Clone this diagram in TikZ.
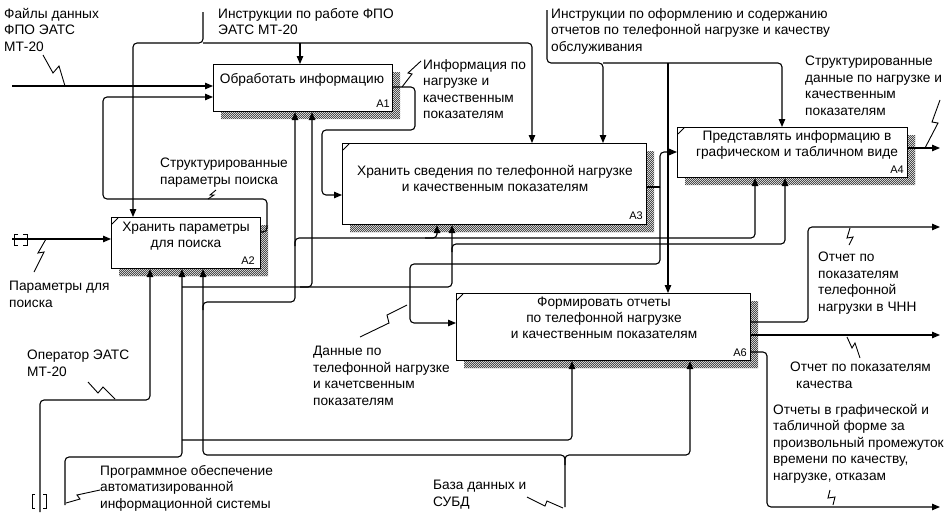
\documentclass[tikz,border=0pt]{standalone}
\usepackage{fontspec}
\setmainfont{Liberation Sans}
\usetikzlibrary{arrows.meta,patterns}
\pgfdeclarepatternformonly{finechk}{\pgfqpoint{-0.5pt}{-0.5pt}}{\pgfqpoint{2.5pt}{2.5pt}}{\pgfqpoint{2pt}{2pt}}{%
  \pgfpathrectangle{\pgfqpoint{0pt}{0pt}}{\pgfqpoint{1pt}{1pt}}%
  \pgfpathrectangle{\pgfqpoint{1pt}{1pt}}{\pgfqpoint{1pt}{1pt}}%
  \pgfusepath{fill}}
\begin{document}
\begin{tikzpicture}[x=1pt,y=-1pt,
  ln/.style={line width=1.1pt, rounded corners=4pt},
  arr/.style={ln, -{Triangle[length=8pt,width=6.5pt]}},
  box/.style={draw, line width=1.1pt, fill=white, anchor=north west, inner sep=0pt},
  lbl/.style={anchor=north west, inner sep=0pt, align=left, font=\fontsize{13.7}{16.5}\selectfont},
  btxt/.style={inner sep=0pt, align=center, font=\fontsize{13.7}{16}\selectfont},
  bnum/.style={anchor=south east, inner sep=0pt, font=\fontsize{11}{11}\selectfont},
  shade/.style={pattern=finechk, pattern color=black!70},
  sq/.style={line width=0.9pt},
  tun/.style={line width=1pt}
]
\useasboundingbox (0,0) rectangle (944,512);
\fill[white] (0,0) rectangle (944,512);

% shadows
\fill[shade] (392,72)--(400,72)--(400,119)--(221,119)--(221,111)--(392,111)--cycle;
\fill[shade] (260,225)--(268,225)--(268,276)--(119,276)--(119,268)--(260,268)--cycle;
\fill[shade] (646,151)--(654,151)--(654,232)--(350,232)--(350,224)--(646,224)--cycle;
\fill[shade] (907,135)--(915,135)--(915,185)--(685,185)--(685,177)--(907,177)--cycle;
\fill[shade] (750,301)--(758,301)--(758,368)--(464,368)--(464,360)--(750,360)--cycle;

% boxes
\node[box, minimum width=179pt, minimum height=47pt] (a1) at (213,64) {};
\node[box, minimum width=149pt, minimum height=51pt] (a2) at (111,217) {};
\node[box, minimum width=304pt, minimum height=81pt] (a3) at (342,143) {};
\node[box, minimum width=230pt, minimum height=50pt] (a4) at (677,127) {};
\node[box, minimum width=294pt, minimum height=67pt] (a6) at (456,293) {};

\draw[line width=0.8pt] (a2.north west) ++(1,7) -- ++(6,-6);
\draw[line width=0.8pt] (a3.north west) ++(1,7) -- ++(6,-6);
\draw[line width=0.8pt] (a4.north west) ++(1,7) -- ++(6,-6);
\draw[line width=0.8pt] (a6.north west) ++(1,7) -- ++(6,-6);

\node[btxt] (a1t) at (302,80) {Обработать информацию};
\node[btxt] (a2t) at (186,236) {Хранить параметры\\для поиска};
\node[btxt] (a3t) at (495,178) {Хранить сведения по телефонной нагрузке\\и качественным показателям};
\node[btxt] (a4t) at (797,145) {Представлять информацию в\\графическом и табличном виде};
\node[btxt] (a6t) at (604,318) {Формировать отчеты\\по телефонной нагрузке\\и качественным показателям};

\node[bnum] (a1n) at (390,108) {A1};
\node[bnum] (a2n) at (255,265) {A2};
\node[bnum] (a3n) at (643,220) {A3};
\node[bnum] (a4n) at (904,174) {A4};
\node[bnum] (a6n) at (747,357) {A6};

% controls
\draw[arr] (203,12) -- (203,43) -- (133,43) -- (133,0 |- a2.north);
\draw[arr] (203,43) -- (532,43) -- (532,0 |- a3.north);
\draw[arr] (300,43) -- (300,0 |- a1.north);
\draw[arr] (547,10) -- (547,63) -- (603,63) -- (603,0 |- a3.north);
\draw[arr] (603,63) -- (782,63) -- (782,0 |- a4.north);
\draw[arr] (668,63) -- (668,0 |- a6.north);

% inputs
\draw[arr] (12,86) -- (a1.west |- 0,86);
\draw[arr] (12,239) -- (a2.west |- 0,239);
\draw[tun] (18,234) -- (14,234) -- (14,245) -- (18,245);
\draw[tun] (23,234) -- (27,234) -- (27,245) -- (23,245);

% outputs
\draw[arr] (a1.east |- 0,87) -- (415,87) -- (415,130) -- (322,130) -- (322,195) -- (a3.west |- 0,195);
\draw[arr] (a2.east |- 0,232) -- (267,232) -- (267,199) -- (103,199) -- (103,97) -- (a1.west |- 0,97);
\draw[ln] (a3.east |- 0,187) -- (660,187);
\draw[arr] (660,187) -- (660,152) -- (a4.west |- 0,152);
\draw[arr] (660,187) -- (660,264) -- (410,264) -- (410,323) -- (a6.west |- 0,323);
\draw[arr] (a4.east |- 0,148) -- (940,148);
\draw[arr] (a6.east |- 0,322) -- (808,322) -- (808,227) -- (940,227);
\draw[arr] (a6.east |- 0,335) -- (940,335);
\draw[arr] (a6.east |- 0,352) -- (767,352) -- (767,507) -- (940,507);

% mechanisms
\draw[arr] (40,512) -- (40,400) -- (150,400) -- (150,0 |- a2.south);
\draw[tun] (35,494) -- (32,494) -- (32,508) -- (35,508);
\draw[tun] (43,494) -- (46,494) -- (46,508) -- (43,508);
\draw[arr] (65,505) -- (65,457) -- (182,457) -- (182,0 |- a2.south);
\draw[arr] (182,440) -- (572,440) -- (572,0 |- a6.south);
\draw[arr] (182,287) -- (452,287) -- (452,0 |- a3.south);
\draw[arr] (300,287) -- (312,287) -- (312,0 |- a1.south);
\draw[arr] (452,252) -- (452,244) -- (785,244) -- (785,0 |- a4.south);
\draw[arr] (565,507) -- (565,455) -- (203,455) -- (203,0 |- a2.south);
\draw[arr] (565,465) -- (565,455) -- (690,455) -- (690,0 |- a6.south);
\draw[arr] (203,310) -- (203,302) -- (295,302) -- (295,0 |- a1.south);
\draw[arr] (295,246) -- (295,238) -- (755,238) -- (755,0 |- a4.south);
\draw[arr] (425,238) -- (437,238) -- (437,0 |- a3.south);

% labels
\node[lbl] (l1) at (4,8) {Файлы данных\\ФПО ЭАТС\\МТ-20};
\node[lbl] (l2) at (218,8) {Инструкции по работе ФПО\\ЭАТС МТ-20};
\node[lbl] (l3) at (551,8) {Инструкции по оформлению и содержанию\\отчетов по телефонной нагрузке и качеству\\обслуживания};
\node[lbl] (l4) at (423,59) {Информация по\\нагрузке и\\качественным\\показателям};
\node[lbl] (l5) at (805,56) {Структурированные\\данные по нагрузке и\\качественным\\показателям};
\node[lbl] (l6) at (160,158) {Структурированные\\параметры поиска};
\node[lbl] (l7) at (9,281) {Параметры для\\поиска};
\node[lbl] (l8) at (27,350) {Оператор ЭАТС\\МТ-20};
\node[lbl] (l9) at (313,346) {Данные по\\телефонной нагрузке\\и качетсвенным\\показателям};
\node[lbl] (l10) at (818,252) {Отчет по\\показателям\\телефонной\\нагрузки в ЧНН};
\node[lbl] (l11) at (790,362) {Отчет по показателям\\\hspace*{6pt}качества};
\node[lbl] (l12) at (773,404) {Отчеты в графической и\\табличной форме за\\произвольный промежуток\\времени по качеству,\\нагрузке, отказам};
\node[lbl] (l13) at (100,465) {Программное обеспечение\\автоматизированной\\информационной системы};
\node[lbl] (l14) at (433,480) {База данных и\\СУБД};

% squiggles
\draw[sq] (43,55)--(53,73)--(59,66)--(65,86);
\draw[sq] (402,87)--(412,74)--(408,73)--(421,61);
\draw[sq] (216,190)--(210,195)--(214,195)--(208,199);
\draw[sq] (46,239)--(38,253)--(44,252)--(34,272);
\draw[sq] (88,382)--(98,393)--(103,387)--(115,399);
\draw[sq] (66,503)--(80,499)--(77,495)--(100,490);
\draw[sq] (527,497)--(545,506)--(547,501)--(563,508);
\draw[sq] (407,305)--(387,315)--(389,323)--(360,337);
\draw[sq] (940,100)--(932,122)--(938,123)--(925,148);
\draw[sq] (850,228)--(847,238)--(853,237)--(849,245);
\draw[sq] (847,337)--(852,348)--(855,343)--(860,358);
\draw[sq] (830,490)--(828,498)--(835,497)--(833,505);
\end{tikzpicture}
\end{document}
